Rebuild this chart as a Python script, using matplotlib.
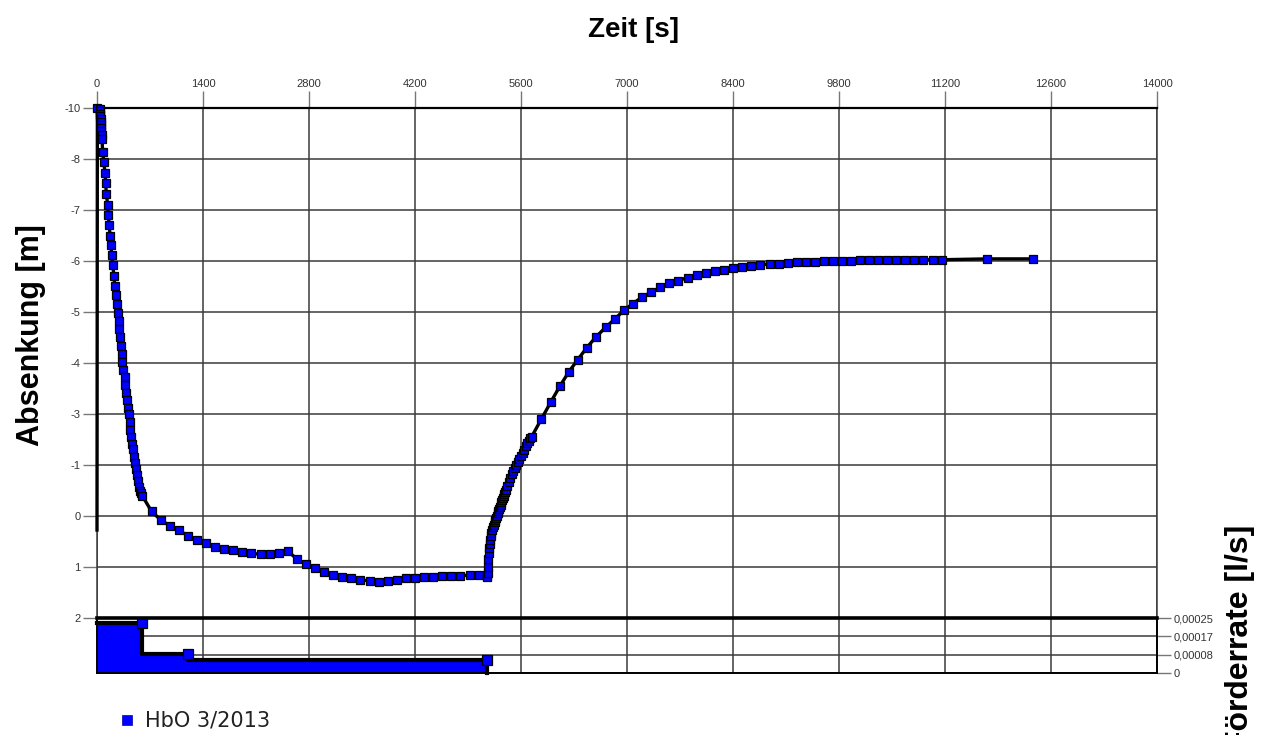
import numpy as np
import matplotlib
matplotlib.use("Agg")
import matplotlib.pyplot as plt

# ---------------- data ----------------
time_s = [0, 5, 40, 42, 44, 46, 48, 50, 52, 55, 58, 62,
          66, 75, 89, 106, 115, 123, 141, 149, 162, 172, 185, 194, 207, 225, 234, 247,
          260, 273, 287, 295, 304, 314, 324, 336, 349, 365, 375, 385, 395, 410, 420, 430,
          441, 451, 466, 476, 486, 501, 511, 527, 537, 552, 567, 582, 600,
          720, 840, 960, 1080, 1200, 1320, 1440, 1560, 1680, 1800, 1920, 2040, 2160,
          2280, 2400, 2520, 2640, 2760, 2880, 3000, 3120, 3240, 3360, 3480, 3600, 3720,
          3840, 3960, 4080, 4200, 4320, 4440, 4560, 4680, 4800, 4920, 5040,
          5150, 5155, 5160, 5165, 5170, 5175, 5180, 5185, 5190, 5200, 5210, 5220, 5230,
          5240, 5250, 5260, 5270, 5280, 5290, 5300, 5310, 5320, 5330, 5340, 5350, 5360,
          5370, 5380, 5390, 5400, 5420, 5440, 5460, 5480, 5500, 5520, 5540, 5560, 5580,
          5600, 5620, 5640, 5660, 5680, 5700, 5720, 5742,
          5869, 5993, 6112, 6231, 6350, 6469, 6588, 6719, 6842, 6961, 7080, 7199, 7323,
          7442, 7561, 7680, 7803, 7922, 8041, 8160, 8283, 8403, 8522, 8641, 8760, 8884,
          9003, 9122, 9241, 9364, 9483, 9602, 9721, 9840, 9959, 10078, 10197, 10316,
          10439, 10558, 10677, 10796, 10915, 11040, 11159, 11754, 12357]

absenkung_m = [-0.07, -10.0, -9.98, -9.92, -9.86, -9.80, -9.73, -9.66, -9.59, -9.52, -9.45, -9.36,
               -9.27, -8.97, -8.73, -8.48, -8.23, -7.98, -7.72, -7.48, -7.24, -7.00, -6.77, -6.53,
               -6.30, -6.05, -5.81, -5.61, -5.39, -5.18, -5.00, -4.79, -4.62, -4.41, -4.21, -4.03,
               -3.83, -3.66, -3.49, -3.30, -3.13, -2.95, -2.80, -2.62, -2.43, -2.26, -2.10, -1.97,
               -1.80, -1.65, -1.50, -1.36, -1.22, -1.09, -1.00, -0.93, -0.87,
               -0.51, -0.31, -0.17, -0.06, 0.06, 0.16, 0.24, 0.33, 0.37, 0.41, 0.45, 0.48, 0.50,
               0.50, 0.46, 0.43, 0.61, 0.74, 0.83, 0.91, 0.98, 1.04, 1.07, 1.10, 1.13, 1.16,
               1.13, 1.10, 1.07, 1.06, 1.04, 1.03, 1.02, 1.01, 1.01, 0.99, 0.99,
               1.00, 1.04, 0.95, 0.80, 0.62, 0.48, 0.36, 0.25, 0.16, 0.08, 0.00, -0.07, -0.13,
               -0.19, -0.25, -0.30, -0.35, -0.41, -0.46, -0.52, -0.56, -0.61, -0.67, -0.72, -0.77,
               -0.82, -0.87, -0.92, -0.97, -1.02, -1.11, -1.21, -1.30, -1.38, -1.46, -1.54, -1.61,
               -1.68, -1.75, -1.81, -1.89, -1.96, -2.04, -2.11, -2.17, -2.23, -2.27,
               -2.68, -3.08, -3.45, -3.79, -4.08, -4.36, -4.61, -4.84, -5.04, -5.24, -5.40, -5.55,
               -5.67, -5.78, -5.88, -5.94, -6.01, -6.06, -6.12, -6.16, -6.20, -6.23, -6.26, -6.28,
               -6.31, -6.33, -6.34, -6.35, -6.37, -6.38, -6.38, -6.40, -6.40, -6.41, -6.41, -6.42,
               -6.42, -6.42, -6.43, -6.43, -6.43, -6.43, -6.43, -6.43, -6.43, -6.45, -6.45]

rate_time_s = [0, 600, 1200, 5150, 5150]
rate_l_s = [0.000226, 0.000226, 0.0000862, 0.0000594, 0.0]

x_ticks = [0, 1400, 2800, 4200, 5600, 7000, 8400, 9800, 11200, 12600, 14000]
y_tick_labels = ['-10', '-8', '-7', '-6', '-5', '-4', '-3', '-1', '0', '1', '2']
rate_ticks = [0, 0.00025 / 3, 0.00025 * 2 / 3, 0.00025]
rate_tick_labels = ['0', '0,00008', '0,00017', '0,00025']

# ---------------- figure ----------------
W, H = 1275, 735
fig = plt.figure(figsize=(W / 100, H / 100), dpi=100)
fig.patch.set_facecolor('white')

tick_font = dict(family=['Liberation Sans', 'DejaVu Sans'], size=8)
title_fam = ['Liberation Sans', 'DejaVu Sans']

L, R = 97, 1157
ax = fig.add_axes([L / W, 1 - 618 / H, (R - L) / W, 510 / H])
ax2 = fig.add_axes([L / W, 1 - 673 / H, (R - L) / W, 55 / H], sharex=ax)

gcol = '#3a3a3a'
glw = 1.1

# main panel
ax.set_xlim(0, 14000)
ax.set_ylim(2, -10)
ax.plot(time_s, absenkung_m, color='black', lw=2.4, zorder=3, clip_on=False,
        marker='s', markersize=6.3, markerfacecolor='#0000ff',
        markeredgecolor='black', markeredgewidth=0.9,
        markevery=list(range(1, len(time_s))))
yt = [-10 + 1.2 * k for k in range(11)]
ax.set_yticks(yt)
ax.set_yticklabels(y_tick_labels, fontdict=tick_font, color='#333333')
ax.xaxis.tick_top()
ax.set_xticks(x_ticks)
ax.set_xticklabels([str(v) for v in x_ticks], fontdict=tick_font, color='#333333')
ax.tick_params(axis='x', which='both', top=True, bottom=False, length=12, width=1,
               color='#777777', pad=2)
ax.tick_params(axis='y', length=10, width=1, color='#777777', pad=2)
ax.grid(True, color=gcol, lw=glw, zorder=1)
for s in ax.spines.values():
    s.set_color(gcol)
    s.set_linewidth(glw)
ax.spines['top'].set_color('black')
ax.spines['top'].set_linewidth(1.6)

# lower panel
ax2.set_ylim(0, 0.00025)
ax2.fill_between(rate_time_s, rate_l_s, 0, step='pre', color='#0000ff', lw=0, zorder=2)
ax2.plot(rate_time_s, rate_l_s, drawstyle='steps-pre', color='black', lw=3, zorder=3,
         marker='s', markersize=6.8, markerfacecolor='#0000ff',
         markeredgecolor='black', markeredgewidth=0.9, markevery=[1, 2, 3], clip_on=False)
ax2.yaxis.tick_right()
ax2.set_yticks(rate_ticks)
ax2.set_yticklabels(rate_tick_labels, fontdict=tick_font, color='#333333')
ax2.tick_params(axis='y', length=10, width=1, color='#777777', pad=2)
ax2.tick_params(axis='x', which='both', bottom=False, top=False, labelbottom=False, labeltop=False)
ax2.grid(True, color=gcol, lw=glw, zorder=1)
for s in ax2.spines.values():
    s.set_color('black')
    s.set_linewidth(1.4)
ax2.spines['top'].set_linewidth(2.6)
ax2.spines['top'].set_zorder(5)

# titles
fig.text(633 / W, 1 - 30 / H, 'Zeit [s]', ha='center', va='center',
         family=title_fam, size=20, weight='bold')
fig.text(31 / W, 1 - 335 / H, 'Absenkung [m]', ha='center', va='center', rotation=90,
         family=title_fam, size=22, weight='bold')
fig.text(1240 / W, 1 - 637 / H, 'Förderrate [l/s]', ha='center', va='center', rotation=90,
         family=title_fam, size=23, weight='bold')

# legend
fig.add_artist(plt.Line2D([127 / W], [1 - 720 / H], marker='s', markersize=7,
                          markerfacecolor='#0000ff', markeredgecolor='#0000aa',
                          markeredgewidth=0.5, transform=fig.transFigure, lw=0))
fig.text(145 / W, 1 - 720 / H, 'HbO 3/2013', ha='left', va='center',
         family=['DejaVu Sans'], size=15, color='#222222')

fig.savefig('out.png', dpi=100, facecolor='white')
